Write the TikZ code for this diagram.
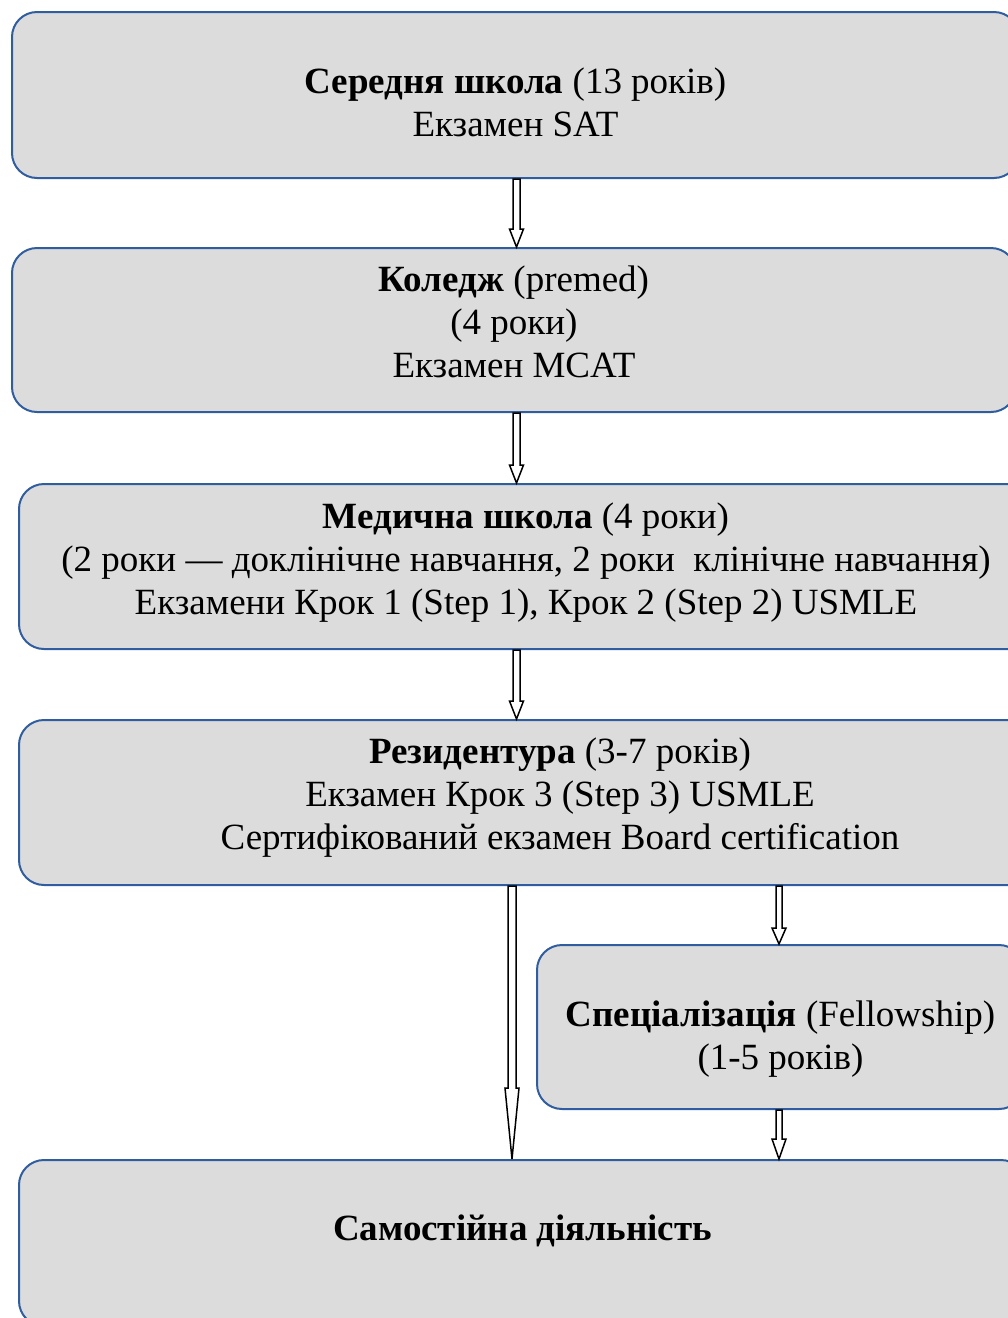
\documentclass[tikz,border=0pt]{standalone}
\usepackage{fontspec}
\setmainfont{Liberation Serif}
\usetikzlibrary{calc}
\definecolor{boxblue}{RGB}{47,93,160}
\definecolor{boxgray}{RGB}{220,220,220}
\tikzset{
  stagebox/.style={draw=boxblue, fill=boxgray, line width=2pt, rounded corners=25pt,
    anchor=north west, inner sep=0pt},
  stagetext/.style={align=center, inner sep=0pt, font=\fontsize{37}{43}\selectfont},
  arrowline/.style={draw=black, fill=white, line width=1.5pt, line join=miter}
}
% hollow block arrow: x, from, to, half shaft, half head, head length
\newcommand{\hollowarrow}[6]{%
  \draw[arrowline] let \p1=(#2), \p2=(#3) in
    ({(#1-#4)*1pt},\y1) -- ({(#1-#4)*1pt},{\y2+#6*1pt}) -- ({(#1-#5)*1pt},{\y2+#6*1pt})
    -- ({#1*1pt},\y2) -- ({(#1+#5)*1pt},{\y2+#6*1pt}) -- ({(#1+#4)*1pt},{\y2+#6*1pt})
    -- ({(#1+#4)*1pt},\y1) -- cycle;}
\begin{document}
\begin{tikzpicture}[x=1pt,y=-1pt]
	\useasboundingbox (0,0) rectangle (1008,1318);
	\clip (0,0) rectangle (1008,1318);
	% stages
	\node [stagebox, minimum width=1007pt, minimum height=166pt] (school) at (11,11) {};
	\node [stagebox, minimum width=1004pt, minimum height=164pt] (college) at (11,247) {};
	\node [stagebox, minimum width=1014pt, minimum height=165pt] (medschool) at (18,483) {};
	\node [stagebox, minimum width=1082pt, minimum height=165pt] (residency) at (18,719) {};
	\node [stagebox, minimum width=487pt, minimum height=164pt] (fellowship) at (536,944) {};
	\node [stagebox, minimum width=1007pt, minimum height=166pt] (practice) at (18,1159) {};
	% texts
	\node [stagetext] (schooltext) at ([yshift=-7pt]school.center)
		{\textbf{Середня школа} (13 років)\\Екзамен SAT};
	\node [stagetext] (collegetext) at ([yshift=8pt]college.center)
		{\textbf{Коледж} (premed)\\(4 роки)\\Екзамен MCAT};
	\node [stagetext] (medschooltext) at ([yshift=4pt]medschool.center)
		{\textbf{Медична школа} (4 роки)\\(2 роки — доклінічне навчання, 2 роки\ \ клінічне навчання)\\Екзамени Крок 1 (Step 1), Крок 2 (Step 2) USMLE};
	\node [stagetext] (residencytext) at ([yshift=5pt]residency.center)
		{\textbf{Резидентура} (3-7 років)\\Екзамен Крок 3 (Step 3) USMLE\\Сертифікований екзамен Board certification};
	\node [stagetext] (fellowshiptext) at ([yshift=-12pt]fellowship.center)
		{\textbf{Спеціалізація} (Fellowship)\\(1-5 років)};
	\node [stagetext] (practicetext) at ([yshift=12pt]practice.center)
		{\textbf{Самостійна діяльність}};
	% arrows
	\hollowarrow{516.5}{school.south}{college.north}{3.5}{7}{18}
	\hollowarrow{516.5}{college.south}{medschool.north}{3.5}{7}{18}
	\hollowarrow{516.5}{medschool.south}{residency.north}{3.5}{7}{18}
	\hollowarrow{512}{residency.south}{practice.north}{4}{7}{71}
	\hollowarrow{779}{residency.south}{fellowship.north}{3}{7}{16}
	\hollowarrow{779}{fellowship.south}{practice.north}{3}{7}{20}
\end{tikzpicture}
\end{document}
